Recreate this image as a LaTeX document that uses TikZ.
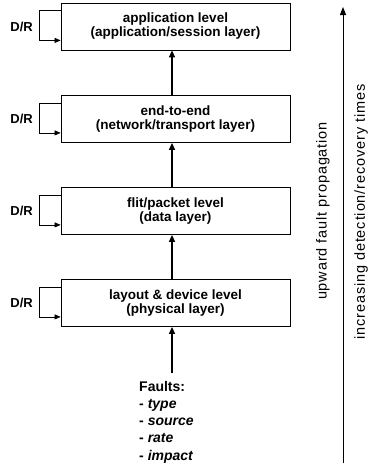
\documentclass[tikz,border=0pt]{standalone}
\usepackage{fontspec}
\setmainfont{Liberation Sans}
\newfontfamily\sidefont[LetterSpace=6]{Liberation Sans}
\usetikzlibrary{arrows.meta}
\begin{document}
\begin{tikzpicture}[x=1pt,y=-1pt,
  layerbox/.style={draw, line width=0.8pt, minimum width=229pt, minimum height=47pt, inner sep=0pt,
    align=center, font=\fontsize{13.5}{14}\selectfont\bfseries},
  uparrow/.style={line width=1.5pt, -{Triangle[length=7pt,width=6pt]}},
  loop/.style={line width=0.6pt, -{Triangle[length=6pt,width=5pt]}},
  drlabel/.style={font=\fontsize{13}{14}\selectfont\bfseries},
  sidetext/.style={rotate=90, font=\fontsize{14.5}{16}\sidefont}]
\useasboundingbox (0,0) rectangle (369,467);
\node[layerbox] (app) at (175.5,26.5) {application level\\(application/session layer)};
\node[layerbox] (e2e) at (175.5,119) {end-to-end\\(network/transport layer)};
\node[layerbox] (flit) at (175.5,211) {flit/packet level\\(data layer)};
\node[layerbox] (phy) at (175.5,303) {layout \& device level\\(physical layer)};
\node[anchor=north west, align=left, inner sep=0pt, font=\fontsize{14}{17.2}\selectfont\bfseries] (faults) at (139,381)
  {Faults:\\ - \textit{type}\\ - \textit{source}\\ - \textit{rate}\\ - \textit{impact}};
\coordinate (fstart) at (172,373);
\draw[uparrow] (fstart) -- (phy.south -| fstart);
\draw[uparrow] (phy.north -| fstart) -- (flit.south -| fstart);
\draw[uparrow] (flit.north -| fstart) -- (e2e.south -| fstart);
\draw[uparrow] (e2e.north -| fstart) -- (app.south -| fstart);
\foreach \b in {app,e2e,flit,phy}{
  \draw[loop] ([yshift=-8pt]\b.north west) -- ++(-21,0) |- ([yshift=10pt]\b.south west);
  \node[drlabel] (dr\b) at ([xshift=-39pt]\b.west) {D/R};
}
\coordinate (abot) at (343,463);
\coordinate (atop) at (343,7);
\draw[line width=1pt, -{Triangle[length=8pt,width=6pt]}] (abot) -- (atop);
\node[sidetext] (prop) at (323,211) {upward fault propagation};
\node[sidetext] (times) at (361,212) {increasing detection/recovery times};
\end{tikzpicture}
\end{document}
